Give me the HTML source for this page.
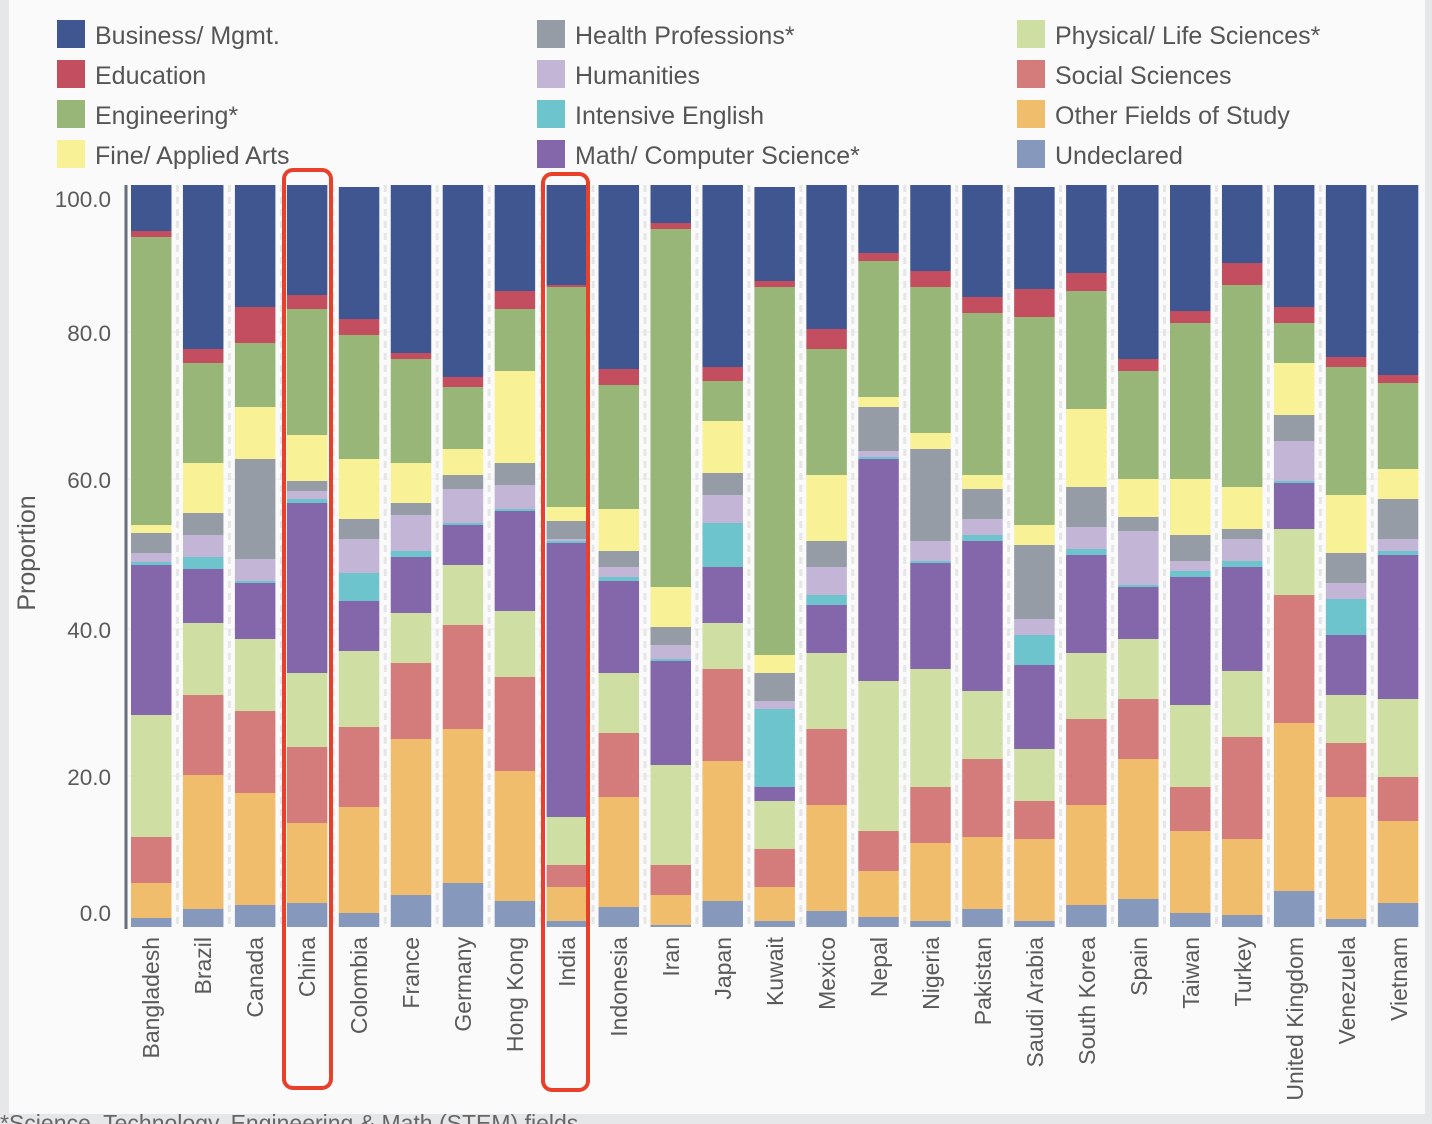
<!DOCTYPE html>
<html><head><meta charset="utf-8"><style>
body{margin:0;width:1432px;height:1124px;background:#e6e7e9;overflow:hidden;font-family:"Liberation Sans",sans-serif}
#p{position:absolute;left:9px;top:0;width:1416px;height:1114px;background:#fafafa}
</style></head><body><div id="p"></div>
<svg id="s" width="1432" height="1124" style="position:absolute;left:0;top:0" font-family="Liberation Sans, sans-serif">
<g id="grid" stroke="#ececec" stroke-width="1">
<line x1="128" x2="1420" y1="332" y2="332"/><line x1="128" x2="1420" y1="479" y2="479"/><line x1="128" x2="1420" y1="629" y2="629"/><line x1="128" x2="1420" y1="776" y2="776"/>
</g>
<g id="bars"></g>
<line x1="126" y1="185" x2="126" y2="929" stroke="#666e7a" stroke-width="3"/>
<g fill="#5a5a5a" font-size="22.5" text-anchor="end">
<text x="111" y="207">100.0</text><text x="111" y="341">80.0</text><text x="111" y="488">60.0</text><text x="111" y="638">40.0</text><text x="111" y="785">20.0</text><text x="111" y="921">0.0</text>
</g>
<text transform="translate(35,553) rotate(-90)" text-anchor="middle" font-size="25" fill="#5a5a5a">Proportion</text>
<g id="xl" fill="#5a5a5a" font-size="23" text-anchor="end">
<text transform="translate(159,937) rotate(-90)">Bangladesh</text>
<text transform="translate(211,937) rotate(-90)">Brazil</text>
<text transform="translate(263,937) rotate(-90)">Canada</text>
<text transform="translate(315,937) rotate(-90)">China</text>
<text transform="translate(367,937) rotate(-90)">Colombia</text>
<text transform="translate(419,937) rotate(-90)">France</text>
<text transform="translate(471,937) rotate(-90)">Germany</text>
<text transform="translate(523,937) rotate(-90)">Hong Kong</text>
<text transform="translate(575,937) rotate(-90)">India</text>
<text transform="translate(627,937) rotate(-90)">Indonesia</text>
<text transform="translate(679,937) rotate(-90)">Iran</text>
<text transform="translate(731,937) rotate(-90)">Japan</text>
<text transform="translate(783,937) rotate(-90)">Kuwait</text>
<text transform="translate(835,937) rotate(-90)">Mexico</text>
<text transform="translate(887,937) rotate(-90)">Nepal</text>
<text transform="translate(939,937) rotate(-90)">Nigeria</text>
<text transform="translate(991,937) rotate(-90)">Pakistan</text>
<text transform="translate(1043,937) rotate(-90)">Saudi Arabia</text>
<text transform="translate(1095,937) rotate(-90)">South Korea</text>
<text transform="translate(1147,937) rotate(-90)">Spain</text>
<text transform="translate(1199,937) rotate(-90)">Taiwan</text>
<text transform="translate(1251,937) rotate(-90)">Turkey</text>
<text transform="translate(1303,937) rotate(-90)">United Kingdom</text>
<text transform="translate(1355,937) rotate(-90)">Venezuela</text>
<text transform="translate(1407,937) rotate(-90)">Vietnam</text>
</g>
<g font-size="25" fill="#555">
<rect x="57" y="20" width="28" height="28" fill="#3f5690"/><text x="95" y="44">Business/ Mgmt.</text>
<rect x="57" y="60" width="28" height="28" fill="#c34e60"/><text x="95" y="84">Education</text>
<rect x="57" y="100" width="28" height="28" fill="#98b677"/><text x="95" y="124">Engineering*</text>
<rect x="57" y="140" width="28" height="28" fill="#f8f195"/><text x="95" y="164">Fine/ Applied Arts</text>
<rect x="537" y="20" width="28" height="28" fill="#969ca6"/><text x="575" y="44">Health Professions*</text>
<rect x="537" y="60" width="28" height="28" fill="#c2b5d6"/><text x="575" y="84">Humanities</text>
<rect x="537" y="100" width="28" height="28" fill="#6ec4cc"/><text x="575" y="124">Intensive English</text>
<rect x="537" y="140" width="28" height="28" fill="#8466aa"/><text x="575" y="164">Math/ Computer Science*</text>
<rect x="1017" y="20" width="28" height="28" fill="#cfdfa4"/><text x="1055" y="44">Physical/ Life Sciences*</text>
<rect x="1017" y="60" width="28" height="28" fill="#d47c7c"/><text x="1055" y="84">Social Sciences</text>
<rect x="1017" y="100" width="28" height="28" fill="#f0bd6c"/><text x="1055" y="124">Other Fields of Study</text>
<rect x="1017" y="140" width="28" height="28" fill="#8699bd"/><text x="1055" y="164">Undeclared</text>
</g>
<rect x="284" y="170" width="47" height="918" rx="9" fill="none" stroke="#e8402a" stroke-width="4"/>
<rect x="543" y="174" width="45" height="916" rx="9" fill="none" stroke="#e8402a" stroke-width="4"/>
<text x="0" y="1131" font-size="23" fill="#666">*Science, Technology, Engineering &amp; Math (STEM) fields</text>
</svg>
<script>
var C=["#8699bd","#f0bd6c","#d47c7c","#cfdfa4","#8466aa","#6ec4cc","#c2b5d6","#969ca6","#f8f195","#98b677","#c34e60","#3f5690"];
var D=[
[918,883,837,715,565,562,553,533,525,237,231,185],
[909,775,695,623,569,557,535,513,463,363,349,185],
[905,793,711,639,583,581,559,459,407,343,307,185],
[903,823,747,673,503,499,491,481,435,309,295,185],
[913,807,727,651,601,573,539,519,459,335,319,187],
[895,739,663,613,557,551,515,503,463,359,353,185],
[883,729,625,565,525,523,489,475,449,387,377,185],
[901,771,677,611,511,509,485,463,371,309,291,185],
[921,887,865,817,543,541,539,521,507,287,285,185],
[907,797,733,673,581,577,567,551,509,385,369,185],
[925,895,865,765,661,659,645,627,587,229,223,185],
[901,761,669,623,567,523,495,473,421,381,367,185],
[921,887,849,801,787,709,701,673,655,287,281,187],
[911,805,729,653,605,595,567,541,475,349,329,185],
[917,871,831,681,459,457,451,407,397,261,253,185],
[921,843,787,669,563,561,541,449,433,287,271,185],
[909,837,759,691,541,535,519,489,475,313,297,185],
[921,839,801,749,665,635,619,545,525,317,289,187],
[905,805,719,653,555,549,527,487,409,291,273,185],
[899,759,699,639,587,585,531,517,479,371,359,185],
[913,831,787,705,577,571,561,535,479,323,311,185],
[915,839,737,671,567,561,539,529,487,285,263,185],
[891,723,595,529,483,481,441,415,363,323,307,185],
[919,797,743,695,635,599,583,553,495,367,357,185],
[903,821,777,699,555,551,539,499,469,383,375,185]];
var g=document.getElementById("bars"),h="";
for(var i=0;i<25;i++){var x=131+i*51.95;var prev=927;
 if(i>0)h+='<line x1="'+(x-5.5)+'" x2="'+(x-5.5)+'" y1="185" y2="927" stroke="#e6e6e6" stroke-width="3" stroke-dasharray="7,5"/>';
 for(var k=0;k<12;k++){var t=D[i][k];h+='<rect x="'+x+'" y="'+t+'" width="40.5" height="'+Math.max(0,prev-t)+'" fill="'+C[k]+'"/>';prev=t;}}
g.innerHTML=h;
</script>
</body></html>
